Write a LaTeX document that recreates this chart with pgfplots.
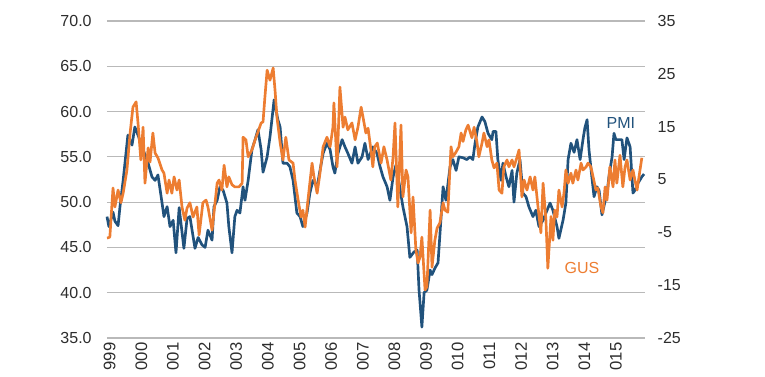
\documentclass[border=0pt]{standalone}
\usepackage{pgfplots}
\pgfplotsset{compat=1.18}
\usepackage{fontspec}
\setmainfont{Liberation Sans}
\definecolor{pmiblue}{RGB}{33,82,124}
\definecolor{gusorange}{RGB}{237,125,49}
\definecolor{gridgray}{RGB}{185,185,185}
\definecolor{txt}{RGB}{45,45,45}
\begin{document}
\begin{tikzpicture}[font=\fontsize{12}{14}\selectfont]
\path[use as bounding box] (-80.25pt,-29.25pt) rectangle (493.5pt,253.5pt);
\begin{axis}[
  at={(0pt,0pt)}, anchor=south west,
  scale only axis, width=403.5pt, height=237.75pt,
  xmin=1999, xmax=2016, ymin=35, ymax=70,
  axis line style={draw=none},
  major tick length=0pt,
  ymajorgrids, grid style={gridgray, line width=0.8pt},
  ytick={35,40,...,70},
  yticklabels={35.0,40.0,45.0,50.0,55.0,60.0,65.0,70.0},
  yticklabel style={text=txt, xshift=-8pt},
  xtick={1999,...,2015},
  xticklabels={999,000,001,002,003,004,005,006,007,008,009,010,011,012,013,014,015},
  xticklabel style={text=txt, rotate=90, anchor=east, yshift=-2pt, font=\fontsize{12.5}{14}\selectfont},
  clip=false,
]
\addplot[pmiblue, line width=2pt, line join=round] coordinates {
(1999.00,48.4) (1999.06,47.3) (1999.19,48.9) (1999.25,47.9) (1999.35,47.4) (1999.41,49.5)
(1999.51,52.4) (1999.66,57.4) (1999.79,56.3) (1999.88,58.3) (1999.98,57.4) (2000.14,55.8)
(2000.30,54.3) (2000.42,52.8) (2000.52,52.4) (2000.61,53.0) (2000.74,49.9) (2000.80,48.4)
(2000.90,49.5) (2000.99,47.3) (2001.09,48.0) (2001.18,44.4) (2001.28,49.4) (2001.43,44.9)
(2001.53,48.2) (2001.62,48.4) (2001.78,44.9) (2001.88,46.1) (2002.00,45.3) (2002.10,45.0)
(2002.19,46.9) (2002.32,45.8) (2002.38,49.5) (2002.48,50.2) (2002.57,51.7) (2002.67,51.3)
(2002.79,49.9) (2002.85,47.3) (2002.95,44.4) (2003.04,48.4) (2003.11,49.1) (2003.20,48.8)
(2003.30,51.7) (2003.36,50.2) (2003.46,52.4) (2003.58,55.8) (2003.68,56.9) (2003.77,58.0)
(2003.87,55.8) (2003.93,53.3) (2004.06,55.0) (2004.15,57.2) (2004.28,61.3) (2004.40,59.1)
(2004.47,58.3) (2004.56,54.3) (2004.69,54.3) (2004.78,53.9) (2004.88,52.4) (2005.00,48.8)
(2005.10,48.4) (2005.19,47.3) (2005.32,48.8) (2005.41,51.0) (2005.51,52.4) (2005.64,51.7)
(2005.73,53.5) (2005.83,55.4) (2005.95,56.5) (2006.05,55.8) (2006.14,53.9) (2006.20,53.2)
(2006.30,55.4) (2006.43,56.9) (2006.52,56.1) (2006.61,55.4) (2006.74,54.3) (2006.84,56.1)
(2006.93,54.3) (2007.06,55.0) (2007.15,56.5) (2007.25,54.7) (2007.40,56.1) (2007.53,55.4)
(2007.63,53.9) (2007.72,52.8) (2007.85,51.7) (2007.94,50.2) (2008.04,52.8) (2008.13,54.1)
(2008.23,52.1) (2008.35,49.5) (2008.48,47.3) (2008.57,43.9) (2008.70,44.5) (2008.80,44.7)
(2008.86,40.3) (2008.95,36.2) (2009.02,40.0) (2009.11,40.3) (2009.21,42.5) (2009.27,42.0)
(2009.36,42.7) (2009.46,43.3) (2009.55,48.0) (2009.62,51.7) (2009.71,50.2) (2009.84,53.9)
(2009.93,54.7) (2010.03,53.5) (2010.12,55.0) (2010.25,54.9) (2010.37,54.7) (2010.47,55.0)
(2010.56,54.7) (2010.63,56.5) (2010.72,58.3) (2010.85,59.4) (2010.94,58.9) (2011.04,57.6)
(2011.16,56.9) (2011.20,57.8) (2011.29,57.8) (2011.35,54.7) (2011.45,52.4) (2011.51,54.3)
(2011.61,52.8) (2011.70,51.7) (2011.80,53.5) (2011.86,50.0) (2011.95,53.2) (2012.05,54.7)
(2012.14,51.0) (2012.24,50.6) (2012.33,49.5) (2012.46,48.4) (2012.55,49.1) (2012.65,47.3)
(2012.78,48.0) (2012.87,48.8) (2013.00,49.9) (2013.09,49.1) (2013.22,47.3) (2013.28,46.0)
(2013.41,48.0) (2013.50,49.9) (2013.57,54.7) (2013.66,56.5) (2013.76,55.5) (2013.85,56.9)
(2013.95,54.7) (2014.04,56.9) (2014.10,58.2) (2014.17,59.1) (2014.23,55.8) (2014.32,52.8)
(2014.39,50.6) (2014.48,51.7) (2014.55,51.3) (2014.64,48.6) (2014.70,49.5) (2014.80,51.0)
(2014.86,52.8) (2014.96,55.0) (2015.02,57.6) (2015.08,56.9) (2015.15,56.9) (2015.27,56.9)
(2015.34,54.7) (2015.43,57.1) (2015.53,56.1) (2015.62,51.0) (2015.68,51.3) (2015.78,52.1)
(2015.90,52.8) (2015.97,53.1)
};
\node[text=pmiblue, anchor=center] at (axis cs:2015.24,58.7) {PMI};
\node[text=gusorange, anchor=center] at (axis cs:2014.01,42.7) {GUS};
\end{axis}
\begin{axis}[
  at={(0pt,0pt)}, anchor=south west,
  scale only axis, width=403.5pt, height=237.75pt,
  xmin=1999, xmax=2016, ymin=-25, ymax=35,
  axis y line*=right, hide x axis,
  axis line style={draw=none},
  major tick length=0pt,
  ytick={-25,-15,...,35},
  yticklabels={-25,-15,-5,5,15,25,35},
  yticklabel style={text=txt, anchor=west, xshift=6pt},
]
\addplot[gusorange, line width=2pt, line join=round] coordinates {
(1999.00,-6.1) (1999.09,-5.9) (1999.19,3.4) (1999.25,-0.2) (1999.35,3.0) (1999.44,0.6)
(1999.51,2.4) (1999.63,6.8) (1999.73,13.8) (1999.82,18.7) (1999.92,19.7) (1999.98,15.7)
(2000.07,8.7) (2000.14,14.9) (2000.20,4.3) (2000.30,11.0) (2000.36,8.3) (2000.45,13.8)
(2000.52,10.0) (2000.61,9.1) (2000.74,6.8) (2000.80,6.2) (2000.90,2.4) (2000.96,4.9)
(2001.05,2.4) (2001.12,5.5) (2001.21,3.0) (2001.28,4.9) (2001.37,-0.2) (2001.46,-2.7)
(2001.53,-0.4) (2001.62,0.6) (2001.72,-2.1) (2001.84,-0.2) (2001.91,-5.5) (2002.03,0.6)
(2002.13,1.1) (2002.19,-0.2) (2002.32,-4.6) (2002.38,-1.3) (2002.48,4.3) (2002.54,4.9)
(2002.63,3.0) (2002.70,7.7) (2002.79,3.6) (2002.85,5.5) (2002.95,4.0) (2003.04,3.6)
(2003.17,3.6) (2003.27,4.3) (2003.30,13.0) (2003.39,12.5) (2003.46,9.3) (2003.58,10.6)
(2003.68,12.5) (2003.77,14.0) (2003.87,15.7) (2003.93,15.9) (2003.99,20.6) (2004.06,25.7)
(2004.15,23.8) (2004.25,26.1) (2004.31,21.9) (2004.37,16.8) (2004.47,12.0) (2004.56,8.7)
(2004.65,13.0) (2004.75,8.7) (2004.88,8.1) (2004.94,4.9) (2005.04,1.1) (2005.13,-2.1)
(2005.19,-0.8) (2005.26,-4.0) (2005.35,1.1) (2005.48,8.1) (2005.54,5.5) (2005.64,2.4)
(2005.73,6.2) (2005.83,11.2) (2005.95,13.0) (2006.05,11.2) (2006.14,14.9) (2006.17,19.5)
(2006.27,7.4) (2006.36,22.5) (2006.46,14.9) (2006.52,16.8) (2006.61,14.4) (2006.74,15.7)
(2006.84,12.5) (2006.93,14.9) (2007.03,18.7) (2007.09,16.8) (2007.18,13.8) (2007.25,14.7)
(2007.34,10.6) (2007.40,7.4) (2007.46,11.2) (2007.54,11.9) (2007.66,8.1) (2007.75,11.2)
(2007.85,8.7) (2007.97,4.9) (2008.04,9.3) (2008.10,15.7) (2008.19,-0.2) (2008.29,15.3)
(2008.35,1.7) (2008.45,6.8) (2008.51,5.5) (2008.61,-5.1) (2008.67,1.7) (2008.76,-8.3)
(2008.83,-10.8) (2008.89,-9.7) (2008.95,-5.9) (2009.05,-15.9) (2009.11,-15.3) (2009.21,-0.8)
(2009.27,-11.6) (2009.36,-6.5) (2009.43,-4.2) (2009.52,-3.2) (2009.62,0.6) (2009.68,-0.8)
(2009.77,-1.2) (2009.87,11.2) (2009.93,9.3) (2010.03,10.2) (2010.12,11.2) (2010.19,13.8)
(2010.25,12.2) (2010.34,14.4) (2010.41,15.3) (2010.53,12.9) (2010.60,14.9) (2010.69,12.1)
(2010.75,9.3) (2010.85,11.9) (2010.91,13.8) (2011.01,11.2) (2011.07,12.5) (2011.16,8.7)
(2011.23,7.2) (2011.32,8.1) (2011.39,3.0) (2011.48,2.4) (2011.54,7.4) (2011.64,8.7)
(2011.70,7.4) (2011.80,8.7) (2011.86,7.4) (2011.95,9.1) (2012.02,10.6) (2012.11,1.7)
(2012.18,4.9) (2012.27,3.0) (2012.37,5.5) (2012.46,3.0) (2012.52,5.5) (2012.62,-0.2)
(2012.71,-5.1) (2012.78,4.3) (2012.87,-2.7) (2012.93,-11.8) (2013.03,-2.0) (2013.09,-6.5)
(2013.15,-0.8) (2013.22,-2.1) (2013.28,3.0) (2013.38,-0.2) (2013.44,2.4) (2013.50,6.8)
(2013.57,4.3) (2013.66,6.2) (2013.72,4.3) (2013.82,6.8) (2013.88,4.9) (2013.98,8.1)
(2014.04,6.8) (2014.14,7.4) (2014.20,8.1) (2014.29,7.4) (2014.36,5.5) (2014.45,3.0)
(2014.51,3.4) (2014.61,-0.2) (2014.67,-1.3) (2014.74,3.6) (2014.80,1.1) (2014.89,7.4)
(2014.99,3.6) (2015.05,8.7) (2015.11,4.3) (2015.21,9.6) (2015.30,3.6) (2015.37,7.4)
(2015.43,8.7) (2015.53,4.9) (2015.62,6.8) (2015.68,4.9) (2015.75,3.0) (2015.81,5.5)
(2015.90,9.1)
};
\end{axis}
\end{tikzpicture}
\end{document}
